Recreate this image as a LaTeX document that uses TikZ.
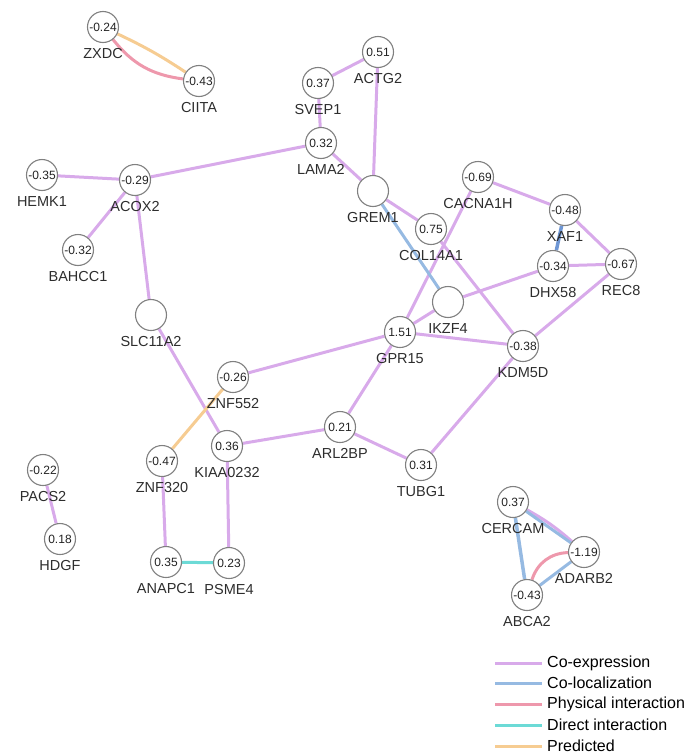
\documentclass[tikz,border=0pt]{standalone}
\usepackage{fontspec}
\setmainfont{Liberation Sans}
\usetikzlibrary{backgrounds}

% edge colours, one per interaction type
\definecolor{coexp}{RGB}{216,170,234}
\definecolor{coloc}{RGB}{150,186,226}
\definecolor{colocdark}{RGB}{110,150,212}
\definecolor{physical}{RGB}{238,152,172}
\definecolor{direct}{RGB}{108,218,214}
\definecolor{predicted}{RGB}{246,204,146}
\definecolor{ringgray}{RGB}{128,128,128}
\definecolor{numtext}{RGB}{35,35,35}
\definecolor{labtext}{RGB}{45,45,45}

\begin{document}
\begin{tikzpicture}[x=1pt,y=-1pt,
  gene/.style={circle, draw=ringgray, line width=1.1pt, fill=white,
    minimum size=31pt, inner sep=0pt, text=numtext,
    font=\fontsize{12}{12}\selectfont},
  glabel/.style={font=\fontsize{14.5}{14.5}\selectfont, text=labtext,
    inner sep=0pt, label distance=5pt},
  link/.style={line width=3pt},
  legtext/.style={font=\fontsize{16}{16}\selectfont, text=black,
    inner sep=0pt, anchor=west}]

\useasboundingbox (0,0) rectangle (693,755);

% genes: value inside, name below
\node[gene, label={[glabel]below:ZXDC}]     (zxdc)   at (103,27)  {-0.24};
\node[gene, label={[glabel]below:CIITA}]    (ciita)  at (199,81)  {-0.43};
\node[gene, label={[glabel]below:ACTG2}]    (actg2)  at (378,52)  {0.51};
\node[gene, label={[glabel]below:SVEP1}]    (svep1)  at (318,83)  {0.37};
\node[gene, label={[glabel]below:LAMA2}]    (lama2)  at (321,143) {0.32};
\node[gene, label={[glabel]below:HEMK1}]    (hemk1)  at (42,175)  {-0.35};
\node[gene, label={[glabel]below:ACOX2}]    (acox2)  at (135,180) {-0.29};
\node[gene, label={[glabel]below:BAHCC1}]   (bahcc1) at (78,250)  {-0.32};
\node[gene, label={[glabel]below:SLC11A2}]  (slc)    at (151,315) {};
\node[gene, label={[glabel]below:GREM1}]    (grem1)  at (373,191) {};
\node[gene, label={[glabel]below:CACNA1H}]  (cacna)  at (478,177) {-0.69};
\node[gene, label={[glabel]below:COL14A1}]  (col14)  at (431,229) {0.75};
\node[gene, label={[glabel]below:XAF1}]     (xaf1)   at (565,210) {-0.48};
\node[gene, label={[glabel]below:DHX58}]    (dhx58)  at (553,266) {-0.34};
\node[gene, label={[glabel]below:REC8}]     (rec8)   at (621,264) {-0.67};
\node[gene, label={[glabel]below:IKZF4}]    (ikzf4)  at (448,302) {};
\node[gene, label={[glabel]below:GPR15}]    (gpr15)  at (400,332) {1.51};
\node[gene, label={[glabel]below:KDM5D}]    (kdm5d)  at (523,346) {-0.38};
\node[gene, label={[glabel]below:ZNF552}]   (znf552) at (233,377) {-0.26};
\node[gene, label={[glabel]below:ARL2BP}]   (arl2bp) at (340,427) {0.21};
\node[gene, label={[glabel]below:KIAA0232}] (kiaa)   at (227,446) {0.36};
\node[gene, label={[glabel]below:ZNF320}]   (znf320) at (162,461) {-0.47};
\node[gene, label={[glabel]below:TUBG1}]    (tubg1)  at (421,465) {0.31};
\node[gene, label={[glabel]below:PACS2}]    (pacs2)  at (43,470)  {-0.22};
\node[gene, label={[glabel]below:HDGF}]     (hdgf)   at (60,539)  {0.18};
\node[gene, label={[glabel]below:ANAPC1}]   (anapc1) at (166,562) {0.35};
\node[gene, label={[glabel]below:PSME4}]    (psme4)  at (229,563) {0.23};
\node[gene, label={[glabel]below:CERCAM}]   (cercam) at (513,502) {0.37};
\node[gene, label={[glabel]below:ADARB2}]   (adarb2) at (584,552) {-1.19};
\node[gene, label={[glabel]below:ABCA2}]    (abca2)  at (527,595) {-0.43};

\begin{pgfonlayer}{background}
  % co-expression
  \draw[link, coexp] (svep1) -- (actg2);
  \draw[link, coexp] (svep1) -- (lama2);
  \draw[link, coexp] (lama2) -- (acox2);
  \draw[link, coexp] (lama2) -- (grem1);
  \draw[link, coexp] (actg2) -- (grem1);
  \draw[link, coexp] (hemk1) -- (acox2);
  \draw[link, coexp] (acox2) -- (bahcc1);
  \draw[link, coexp] (acox2) -- (slc);
  \draw[link, coexp] (slc) -- (kiaa);
  \draw[link, coexp] (znf552) -- (gpr15);
  \draw[link, coexp] (grem1) -- (col14);
  \draw[link, coexp] (cacna) -- (gpr15);
  \draw[link, coexp] (col14) -- (kdm5d);
  \draw[link, coexp] (cacna) -- (xaf1);
  \draw[link, coexp] (xaf1) -- (rec8);
  \draw[link, coexp] (dhx58) -- (rec8);
  \draw[link, coexp] (gpr15) -- (ikzf4);
  \draw[link, coexp] (ikzf4) -- (dhx58);
  \draw[link, coexp] (gpr15) -- (kdm5d);
  \draw[link, coexp] (kdm5d) -- (rec8);
  \draw[link, coexp] (gpr15) -- (arl2bp);
  \draw[link, coexp] (arl2bp) -- (kiaa);
  \draw[link, coexp] (arl2bp) -- (tubg1);
  \draw[link, coexp] (tubg1) -- (kdm5d);
  \draw[link, coexp] (kiaa) -- (psme4);
  \draw[link, coexp] (znf320) -- (anapc1);
  \draw[link, coexp] (pacs2) -- (hdgf);
  \draw[link, coexp] (cercam) to[bend left=6] (adarb2);
  % co-localization
  \draw[link, coloc] (grem1) -- (ikzf4);
  \draw[link, colocdark, line width=3.5pt] (xaf1) -- (dhx58);
  \draw[link, coloc, line width=3.5pt] (cercam) -- (abca2);
  \draw[link, coloc] (cercam) -- (adarb2);
  \draw[link, coloc] (abca2) -- (adarb2);
  % physical interaction
  \draw[link, physical] (zxdc) to[bend right=22] (ciita);
  \draw[link, physical] (abca2) to[bend left=35] (adarb2);
  % predicted
  \draw[link, predicted] (zxdc) to[bend left=4] (ciita);
  \draw[link, predicted] (znf552) -- (znf320);
  % direct interaction
  \draw[link, direct] (anapc1) -- (psme4);
\end{pgfonlayer}

% legend
\coordinate (la1) at (495,663); \coordinate (lb1) at (542,663);
\coordinate (la2) at (495,683); \coordinate (lb2) at (542,683);
\coordinate (la3) at (495,704); \coordinate (lb3) at (542,704);
\coordinate (la4) at (495,725); \coordinate (lb4) at (542,725);
\coordinate (la5) at (495,746); \coordinate (lb5) at (542,746);
\draw[link, coexp] (la1) -- (lb1);
\draw[link, coloc] (la2) -- (lb2);
\draw[link, physical] (la3) -- (lb3);
\draw[link, direct] (la4) -- (lb4);
\draw[link, predicted] (la5) -- (lb5);
\node[legtext] (leg1) at (547,663) {Co-expression};
\node[legtext] (leg2) at (547,683) {Co-localization};
\node[legtext] (leg3) at (547,704) {Physical interaction};
\node[legtext] (leg4) at (547,725) {Direct interaction};
\node[legtext] (leg5) at (547,746) {Predicted};
\end{tikzpicture}
\end{document}
